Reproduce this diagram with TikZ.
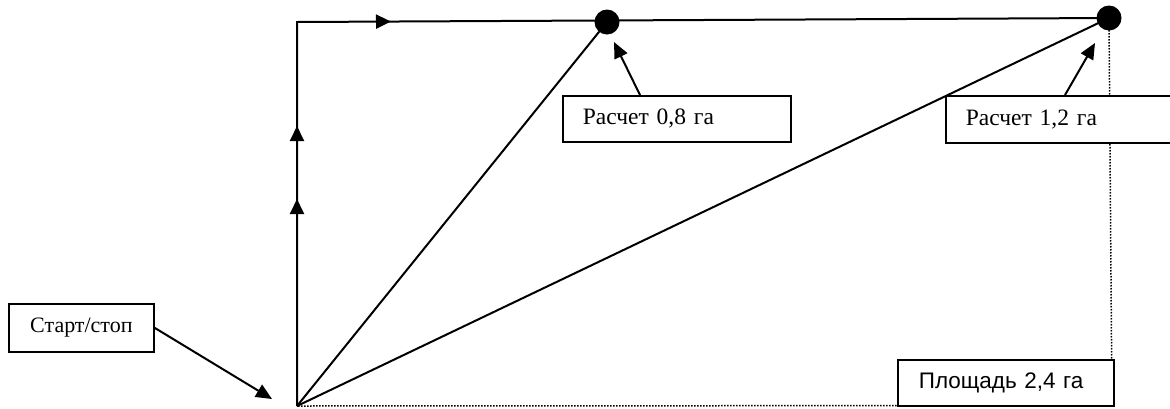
\documentclass[tikz,border=0pt]{standalone}
\usepackage{fontspec}
\setmainfont{Liberation Serif}
\newfontfamily\arialf{Liberation Sans}
\usetikzlibrary{arrows.meta,decorations.markings}
\begin{document}
\begin{tikzpicture}[x=1pt,y=-1pt,
  ln/.style={line width=2pt},
  tip/.style={-{Triangle[length=16pt,width=14pt]}},
  lbl/.style={draw,line width=1.8pt,fill=white,anchor=north west,inner ysep=0pt,
    font=\fontsize{23.5}{26}\selectfont},
  dot/.style={circle,fill=black,inner sep=0pt,minimum size=25pt},
  midarrow/.style={postaction={decorate,decoration={markings,
     mark=at position 207pt with {\arrow{Triangle[length=15pt,width=14pt]}},
     mark=at position 280pt with {\arrow{Triangle[length=15pt,width=14pt]}},
     mark=at position 478pt with {\arrow{Triangle[length=15pt,width=14pt]}}}}}]
\useasboundingbox (0,0) rectangle (1170,408);
\coordinate (O) at (297,406);
\coordinate (C) at (297,22);
\coordinate (BR) at (1112,405.5);
\node[dot] (d1) at (607,22) {};
\node[dot] (d2) at (1109,18) {};
% route
\draw[ln,midarrow] (O) -- (C) -- (d2.center);
\draw[ln] (O) -- (d1.center);
\draw[ln] (O) -- (d2.center);
\draw[line width=1.5pt,dash pattern=on 1.5pt off 1.5pt] (d2.center) -- (BR) -- (O);
% boxes
\node[lbl,inner xsep=20pt,minimum width=228pt,minimum height=46pt,text width=188pt,align=left] (b1) at (562,95) {Расчет 0,8 га};
\node[lbl,inner xsep=20pt,minimum width=235pt,minimum height=47pt,text width=195pt,align=left] (b2) at (945,95) {Расчет 1,2 га};
\node[lbl,inner xsep=0pt,minimum width=145pt,minimum height=48pt,align=center,font=\fontsize{22}{24}\selectfont] (ss) at (8,303) {Старт/стоп};
\node[lbl,inner xsep=21pt,minimum width=216pt,minimum height=46pt,text width=174pt,align=left,font=\arialf\fontsize{22.5}{24}\selectfont] (pl) at (897,359) {Площадь 2,4 га};
% callout arrows
\coordinate (t1) at (640,95);
\coordinate (h1) at (614,42);
\coordinate (t2) at (1065,95);
\coordinate (h2) at (1095,43);
\coordinate (h3) at (272,399);
\draw[ln,tip] (t1) -- (h1);
\draw[ln,tip] (t2) -- (h2);
\draw[ln,tip] (ss.east) -- (h3);
\end{tikzpicture}
\end{document}
